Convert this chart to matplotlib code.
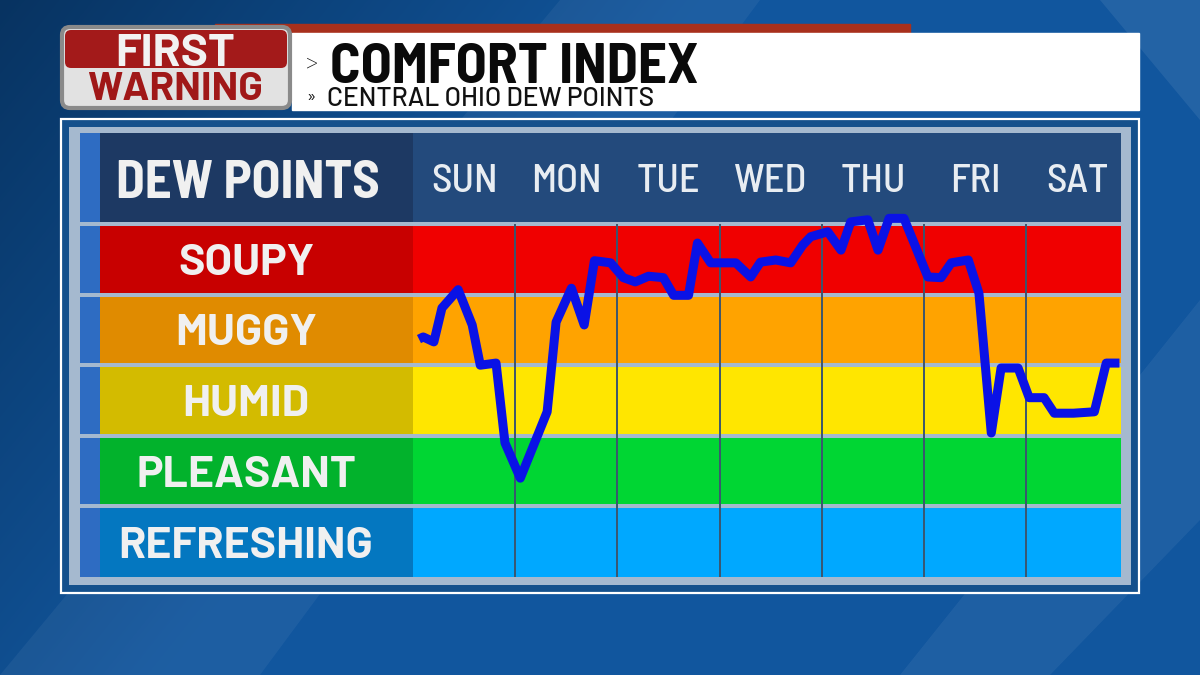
import matplotlib.pyplot as plt
import numpy as np
from matplotlib.patches import Rectangle, FancyBboxPatch, Polygon

plt.rcParams['font.family'] = ['Barlow Semi Condensed', 'DejaVu Sans']
WIDE = ['Barlow', 'DejaVu Sans']

# chart data
days = ['SUN', 'MON', 'TUE', 'WED', 'THU', 'FRI', 'SAT']
categories = ['REFRESHING', 'PLEASANT', 'HUMID', 'MUGGY', 'SOUPY']
band_colors = ['#00a8ff', '#00d633', '#ffe600', '#ffa300', '#f00000']
label_colors = ['#0477c0', '#02b22c', '#d3bb00', '#e08b00', '#c80000']

# hours from start of Sunday, comfort level (0 = bottom of REFRESHING, 5 = top of SOUPY)
hours = [1.4, 2.4, 4.9, 6.8, 10.6, 13.9, 15.8, 19.5, 21.6, 25.2, 31.5, 33.6,
         37.2, 40.2, 42.6, 46.4, 49.4, 52.2, 55.3, 58.8, 61.2, 64.7, 66.8,
         69.9, 75.8, 79.3, 81.6, 85.2, 88.7, 91.5, 93.4, 97.4, 100.5, 102.8,
         106.8, 109.2, 111.8, 115.3, 120.9, 124.0, 126.4, 130.4, 132.9, 135.8,
         138.1, 142.1, 144.7, 148.2, 150.6, 155.1, 160.0, 162.8, 165.9]
level = [3.37, 3.40, 3.33, 3.81, 4.07, 3.57, 3.00, 3.03, 1.90, 1.40, 2.34, 3.61,
         4.09, 3.57, 4.48, 4.45, 4.24, 4.18, 4.26, 4.24, 3.99, 3.99, 4.73,
         4.45, 4.45, 4.25, 4.46, 4.49, 4.45, 4.70, 4.82, 4.89, 4.63, 5.03,
         5.06, 4.63, 5.08, 5.08, 4.25, 4.24, 4.45, 4.49, 4.02, 2.04,
         2.96, 2.96, 2.54, 2.54, 2.32, 2.32, 2.34, 3.03, 3.03]

W, H = 1200, 675
fig = plt.figure(figsize=(12, 6.75), dpi=100)

# --- background / frame layer in pixel coordinates
bg = fig.add_axes([0, 0, 1, 1])
bg.set_xlim(0, W)
bg.set_ylim(H, 0)
bg.axis('off')

yy, xx = np.mgrid[0:H, 0:W]
t = np.clip((xx + 0.8 * yy) / 700.0, 0, 1)
dark = np.array([0.03, 0.20, 0.38])
mid = np.array([0.07, 0.34, 0.62])
img = dark + (mid - dark) * t[..., None]
bg.imshow(img, extent=[0, W, H, 0], aspect='auto', zorder=0)
for pts, a in [([(0, 675), (260, 675), (760, 0), (560, 0)], 0.05),
               ([(1050, 675), (1200, 520), (1200, 300), (900, 675)], 0.06),
               ([(1100, 0), (1200, 0), (1200, 120)], 0.08)]:
    bg.add_patch(Polygon(pts, closed=True, color='white', alpha=a, lw=0, zorder=1))

# title block
bg.add_patch(Rectangle((215, 24), 695, 10, color='#a8301c', zorder=2))
bg.add_patch(Rectangle((292, 33), 847, 77, color='white', zorder=2))
bg.add_patch(FancyBboxPatch((62, 27), 228, 81, boxstyle='round,pad=0,rounding_size=8',
                            fc='#e2e2e2', ec='#8a8a8a', lw=3, zorder=3))
bg.add_patch(FancyBboxPatch((65, 30), 222, 38, boxstyle='round,pad=0,rounding_size=6',
                            fc='#a31a1a', ec='none', zorder=4))
bg.text(175, 54, 'FIRST', ha='center', va='center', fontsize=33, fontweight='bold',
        family=WIDE, color='#f2f2f2', zorder=5)
bg.text(175, 90, 'WARNING', ha='center', va='center', fontsize=29, fontweight='bold',
        family=WIDE, color='#a01818', zorder=5)
bg.text(306, 63, '>', ha='left', va='center', fontsize=18, fontweight='light',
        color='#111111', zorder=5)
bg.text(330, 68, 'COMFORT INDEX', ha='left', va='center', fontsize=41, fontweight='bold',
        color='#0a0a0a', zorder=5)
bg.text(306, 98, '»', ha='left', va='center', fontsize=13, color='#111111', zorder=5)
bg.text(327, 99, 'CENTRAL OHIO DEW POINTS', ha='left', va='center', fontsize=19,
        fontweight='medium', family=WIDE, color='#111111', zorder=5)

# panel frame
bg.add_patch(Rectangle((61, 119), 1078, 474, fc='#14508c', ec='white', lw=1.6, zorder=2))
bg.add_patch(Rectangle((69, 127), 1062, 458, fc='#a5b9cf', ec='none', zorder=3))
bg.add_patch(Rectangle((80, 133), 20, 89, fc='#2e6cc2', ec='none', zorder=4))
bg.add_patch(Rectangle((100, 133), 313, 89, fc='#1d3963', ec='none', zorder=4))
bg.add_patch(Rectangle((413, 133), 708, 89, fc='#234a7c', ec='none', zorder=4))
bg.text(248, 184, 'DEW POINTS', ha='center', va='center', fontsize=38, fontweight='bold',
        color='#f0f0f0', zorder=5)

row_h = 353 / 5.0
for i, (name, col) in enumerate(zip(categories, label_colors)):
    bot = 577 - i * row_h - (0 if i == 0 else 2)
    top = 577 - (i + 1) * row_h + 2
    bg.add_patch(Rectangle((80, top), 20, bot - top, fc='#2e6cc2', ec='none', zorder=4))
    bg.add_patch(Rectangle((100, top), 313, bot - top, fc=col, ec='none', zorder=4))
    bg.text(246, (top + bot) / 2 + 4, name, ha='center', va='center', fontsize=32,
            fontweight='bold', family=WIDE, color='#f0f0f0', zorder=5)

# --- chart layer: hours on x, comfort level on y
ax = fig.add_axes([413 / W, 1 - 577 / H, 708 / W, 353 / H])
ax.set_zorder(2)
day_px = 102.2
ax.set_xlim(0, 708 / day_px * 24)
ax.set_ylim(0, 5)
ax.axis('off')
for i, col in enumerate(band_colors):
    ax.axhspan(i, i + 1, color=col, lw=0, zorder=1)
for i in range(1, 6):
    ax.axhline(i, color='#a5b9cf', lw=2.9, zorder=2, clip_on=False)
for d in range(1, 7):
    ax.axvline(d * 24, ymin=0, ymax=1, color='#3b566f', lw=1.4, zorder=3)
for d, name in enumerate(days):
    ax.text(d * 24 + 12, 5.595, name, ha='center', va='center', fontsize=29,
            fontweight='medium', color='#e8edf2', clip_on=False, zorder=4)

ax.plot(hours, level, color='#0a12e6', lw=6.5, solid_joinstyle='round',
        solid_capstyle='butt', clip_on=False, zorder=5)

fig.savefig('out.png', dpi=100)
